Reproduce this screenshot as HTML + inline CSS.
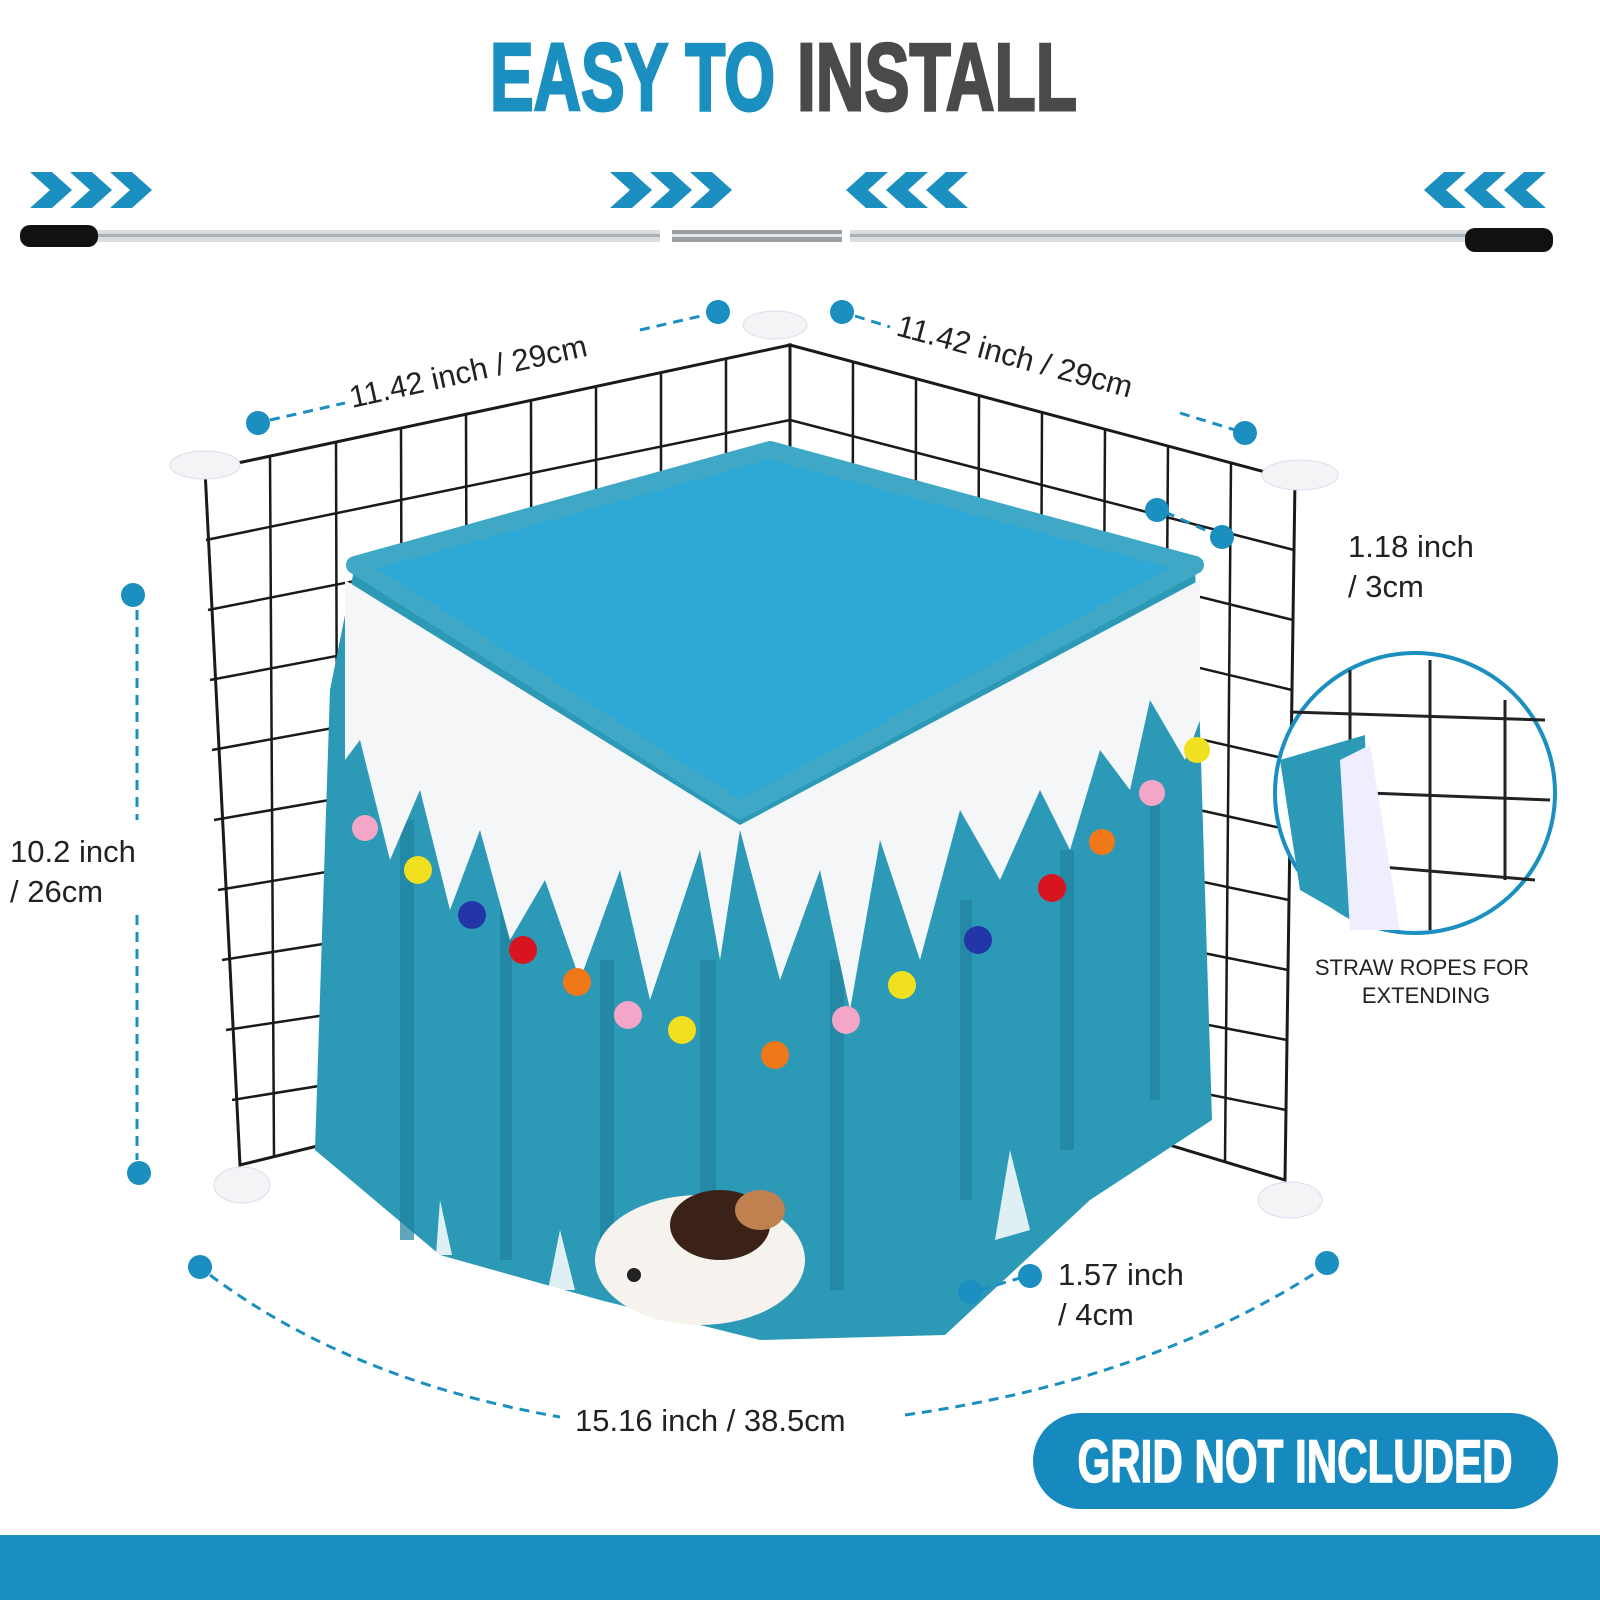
<!DOCTYPE html>
<html><head><meta charset="utf-8"><style>
html,body{margin:0;padding:0;background:#fff;}
svg{display:block}
text{font-family:"Liberation Sans",sans-serif;}
</style></head><body>
<svg width="1600" height="1600" viewBox="0 0 1600 1600" xmlns="http://www.w3.org/2000/svg">
<rect width="1600" height="1600" fill="#fff"/>
<!-- Title -->
<text x="490" y="110" font-family="Liberation Sans Narrow, Liberation Sans, sans-serif" font-weight="bold" font-size="96" fill="#1a8fc0" stroke="#1a8fc0" stroke-width="3" textLength="285" lengthAdjust="spacingAndGlyphs">EASY TO</text>
<text x="797" y="110" font-family="Liberation Sans Narrow, Liberation Sans, sans-serif" font-weight="bold" font-size="96" fill="#4a4a4a" stroke="#4a4a4a" stroke-width="3" textLength="280" lengthAdjust="spacingAndGlyphs">INSTALL</text>
<!-- chevrons -->
<g fill="#1a8fc0">
<g id="cr"><polygon points="30,172 52,172 72,190 52,208 30,208 50,190"/><polygon points="70,172 92,172 112,190 92,208 70,208 90,190"/><polygon points="110,172 132,172 152,190 132,208 110,208 130,190"/></g>
<use href="#cr" x="580"/>
<g id="cl"><polygon points="888,172 866,172 846,190 866,208 888,208 868,190"/><polygon points="928,172 906,172 886,190 906,208 928,208 908,190"/><polygon points="968,172 946,172 926,190 946,208 968,208 948,190"/></g>
<use href="#cl" x="578"/>
</g>
<!-- rod -->
<rect x="95" y="230" width="1375" height="12" fill="#d8dde0"/>
<rect x="95" y="234" width="1375" height="3" fill="#aab0b5"/>
<rect x="660" y="229" width="190" height="14" fill="#fff"/>
<rect x="672" y="230" width="170" height="12" fill="#9aa0a4"/>
<rect x="672" y="234" width="170" height="3" fill="#e8e8e8"/>
<rect x="20" y="225" width="78" height="22" rx="10" fill="#111"/>
<rect x="1465" y="228" width="88" height="24" rx="10" fill="#111"/>
<!-- grid -->
<g stroke="#1a1a1a" stroke-width="3" fill="none">
<polygon points="205,470 790,345 790,1030 240,1165"/>
<polygon points="790,345 1295,480 1285,1180 790,1030"/>
</g>
<g stroke="#1a1a1a" stroke-width="2.5">
<line x1="270" y1="456" x2="274" y2="1157"/><line x1="336" y1="442" x2="338" y2="1141"/><line x1="401" y1="428" x2="403" y2="1125"/><line x1="466" y1="414" x2="468" y2="1109"/><line x1="531" y1="400" x2="532" y2="1093"/><line x1="596" y1="387" x2="597" y2="1077"/><line x1="661" y1="373" x2="661" y2="1061"/><line x1="726" y1="359" x2="726" y2="1046"/>
<line x1="206" y1="540" x2="790" y2="420"/><line x1="208" y1="610" x2="790" y2="495"/><line x1="210" y1="680" x2="790" y2="570"/><line x1="212" y1="750" x2="790" y2="645"/><line x1="214" y1="820" x2="790" y2="720"/><line x1="218" y1="890" x2="790" y2="795"/><line x1="222" y1="960" x2="790" y2="870"/><line x1="226" y1="1030" x2="790" y2="945"/><line x1="232" y1="1100" x2="790" y2="1010"/>
<line x1="853" y1="362" x2="852" y2="1049"/><line x1="916" y1="379" x2="915" y2="1068"/><line x1="979" y1="396" x2="977" y2="1087"/><line x1="1042" y1="413" x2="1039" y2="1106"/><line x1="1105" y1="430" x2="1101" y2="1125"/><line x1="1168" y1="446" x2="1163" y2="1143"/><line x1="1231" y1="463" x2="1225" y2="1162"/>
<line x1="790" y1="420" x2="1294" y2="550"/><line x1="790" y1="495" x2="1293" y2="620"/><line x1="790" y1="570" x2="1292" y2="690"/><line x1="790" y1="645" x2="1291" y2="760"/><line x1="790" y1="720" x2="1290" y2="830"/><line x1="790" y1="795" x2="1289" y2="900"/><line x1="790" y1="870" x2="1288" y2="970"/><line x1="790" y1="945" x2="1287" y2="1040"/><line x1="790" y1="1010" x2="1286" y2="1110"/>
</g>
<g fill="#f2f4f6" stroke="#dde">
<ellipse cx="775" cy="325" rx="32" ry="14"/><ellipse cx="205" cy="465" rx="35" ry="14"/><ellipse cx="1300" cy="475" rx="38" ry="15"/>
<ellipse cx="242" cy="1185" rx="28" ry="18"/><ellipse cx="1290" cy="1200" rx="32" ry="18"/>
</g>
<!-- hammock skirt -->
<polygon points="330,690 355,565 740,810 1195,565 1212,1120 1090,1200 945,1335 760,1340 600,1300 440,1255 315,1150" fill="#2c9ab6"/>
<g fill="#1f819c" opacity="0.7">
<rect x="400" y="820" width="14" height="420"/><rect x="500" y="900" width="12" height="360"/><rect x="600" y="960" width="14" height="300"/><rect x="700" y="960" width="16" height="260"/><rect x="830" y="960" width="14" height="330"/><rect x="960" y="900" width="12" height="300"/><rect x="1060" y="850" width="14" height="300"/><rect x="1150" y="800" width="10" height="300"/>
</g>
<g fill="#fff" opacity="0.85">
<polygon points="440,1200 452,1255 436,1255"/><polygon points="560,1230 575,1290 548,1290"/><polygon points="1010,1150 1030,1230 995,1240"/>
</g>
<!-- top surface -->
<polygon points="355,565 770,450 1195,565 740,810" fill="#2ea8d4"/>
<polygon points="355,565 770,450 1195,565 740,810" fill="none" stroke="#3fa8c6" stroke-width="18" stroke-linejoin="round"/>
<!-- white fringe -->
<polygon points="345,580 740,825 1200,580 1200,720 1185,760 1150,700 1130,790 1100,750 1070,850 1040,790 1000,880 960,810 920,960 880,840 850,1010 820,870 780,980 740,830 720,960 700,850 650,1000 620,870 580,980 545,880 510,940 480,830 450,910 420,790 390,860 360,740 345,760" fill="#f4f6f8"/>
<g>
<circle cx="365" cy="828" r="13" fill="#f3a6c8"/><circle cx="418" cy="870" r="14" fill="#f0e020"/><circle cx="472" cy="915" r="14" fill="#2236a8"/><circle cx="523" cy="950" r="14" fill="#d8141e"/><circle cx="577" cy="982" r="14" fill="#f07818"/><circle cx="628" cy="1015" r="14" fill="#f3a6c8"/><circle cx="682" cy="1030" r="14" fill="#f0e020"/><circle cx="775" cy="1055" r="14" fill="#f07818"/><circle cx="846" cy="1020" r="14" fill="#f3a6c8"/><circle cx="902" cy="985" r="14" fill="#f0e020"/><circle cx="978" cy="940" r="14" fill="#2236a8"/><circle cx="1052" cy="888" r="14" fill="#d8141e"/><circle cx="1102" cy="842" r="13" fill="#f07818"/><circle cx="1152" cy="793" r="13" fill="#f3a6c8"/><circle cx="1197" cy="750" r="13" fill="#f0e020"/>
</g>
<!-- guinea pig -->
<ellipse cx="700" cy="1260" rx="105" ry="65" fill="#f6f2ee"/>
<ellipse cx="720" cy="1225" rx="50" ry="35" fill="#3a2218"/>
<ellipse cx="760" cy="1210" rx="25" ry="20" fill="#c08050"/>
<circle cx="634" cy="1275" r="7" fill="#222"/>
<!-- inset circle -->
<circle cx="1415" cy="793" r="140" fill="#fff" stroke="#1a8fc0" stroke-width="4"/>
<g stroke="#222" stroke-width="3"><line x1="1350" y1="670" x2="1350" y2="880"/><line x1="1430" y1="660" x2="1430" y2="930"/><line x1="1505" y1="700" x2="1505" y2="880"/><line x1="1290" y1="712" x2="1545" y2="720"/><line x1="1290" y1="790" x2="1550" y2="800"/><line x1="1300" y1="860" x2="1535" y2="880"/></g>
<polygon points="1280,760 1365,735 1370,930 1300,890" fill="#2c9ab6"/>
<polygon points="1340,760 1370,745 1400,930 1350,930" fill="#eef"/>
<text x="1422" y="975" text-anchor="middle" font-size="22" fill="#222">STRAW ROPES FOR</text>
<text x="1426" y="1003" text-anchor="middle" font-size="22" fill="#222">EXTENDING</text>
<!-- dimensions -->
<g stroke="#1a8fc0" stroke-width="3" stroke-dasharray="10,7" fill="none">
<line x1="270" y1="420" x2="345" y2="403"/><line x1="640" y1="330" x2="705" y2="315"/>
<line x1="855" y1="316" x2="890" y2="327"/><line x1="1180" y1="413" x2="1235" y2="430"/>
<line x1="1165" y1="512" x2="1212" y2="533"/>
<line x1="137" y1="610" x2="137" y2="820"/><line x1="137" y1="915" x2="137" y2="1160"/>
<line x1="980" y1="1290" x2="1020" y2="1278"/>
<path d="M210,1275 Q350,1380 560,1417"/><path d="M905,1415 Q1150,1380 1320,1270"/>
</g>
<g fill="#1a8fc0">
<circle cx="258" cy="423" r="12"/><circle cx="718" cy="312" r="12"/><circle cx="842" cy="312" r="12"/><circle cx="1245" cy="433" r="12"/>
<circle cx="1157" cy="510" r="12"/><circle cx="1222" cy="537" r="12"/>
<circle cx="133" cy="595" r="12"/><circle cx="139" cy="1173" r="12"/>
<circle cx="970" cy="1292" r="12"/><circle cx="1030" cy="1276" r="12"/>
<circle cx="200" cy="1267" r="12"/><circle cx="1327" cy="1263" r="12"/>
</g>
<g font-size="31" fill="#222">
<text transform="translate(352,408) rotate(-12.5)">11.42 inch / 29cm</text>
<text transform="translate(895,335) rotate(15)">11.42 inch / 29cm</text>
<text x="1348" y="557">1.18 inch</text><text x="1348" y="597">/ 3cm</text>
<text x="10" y="862">10.2 inch</text><text x="10" y="902">/ 26cm</text>
<text x="1058" y="1285">1.57 inch</text><text x="1058" y="1325">/ 4cm</text>
<text x="575" y="1431">15.16 inch / 38.5cm</text>
</g>
<rect x="1033" y="1413" width="525" height="96" rx="48" fill="#1689bf"/>
<text x="1295" y="1482" text-anchor="middle" font-family="Liberation Sans Narrow, Liberation Sans, sans-serif" font-weight="bold" font-size="60" fill="#fff" stroke="#fff" stroke-width="1.5" textLength="435" lengthAdjust="spacingAndGlyphs">GRID NOT INCLUDED</text>
<rect x="0" y="1535" width="1600" height="65" fill="#1a8fbf"/>
</svg>
</body></html>
